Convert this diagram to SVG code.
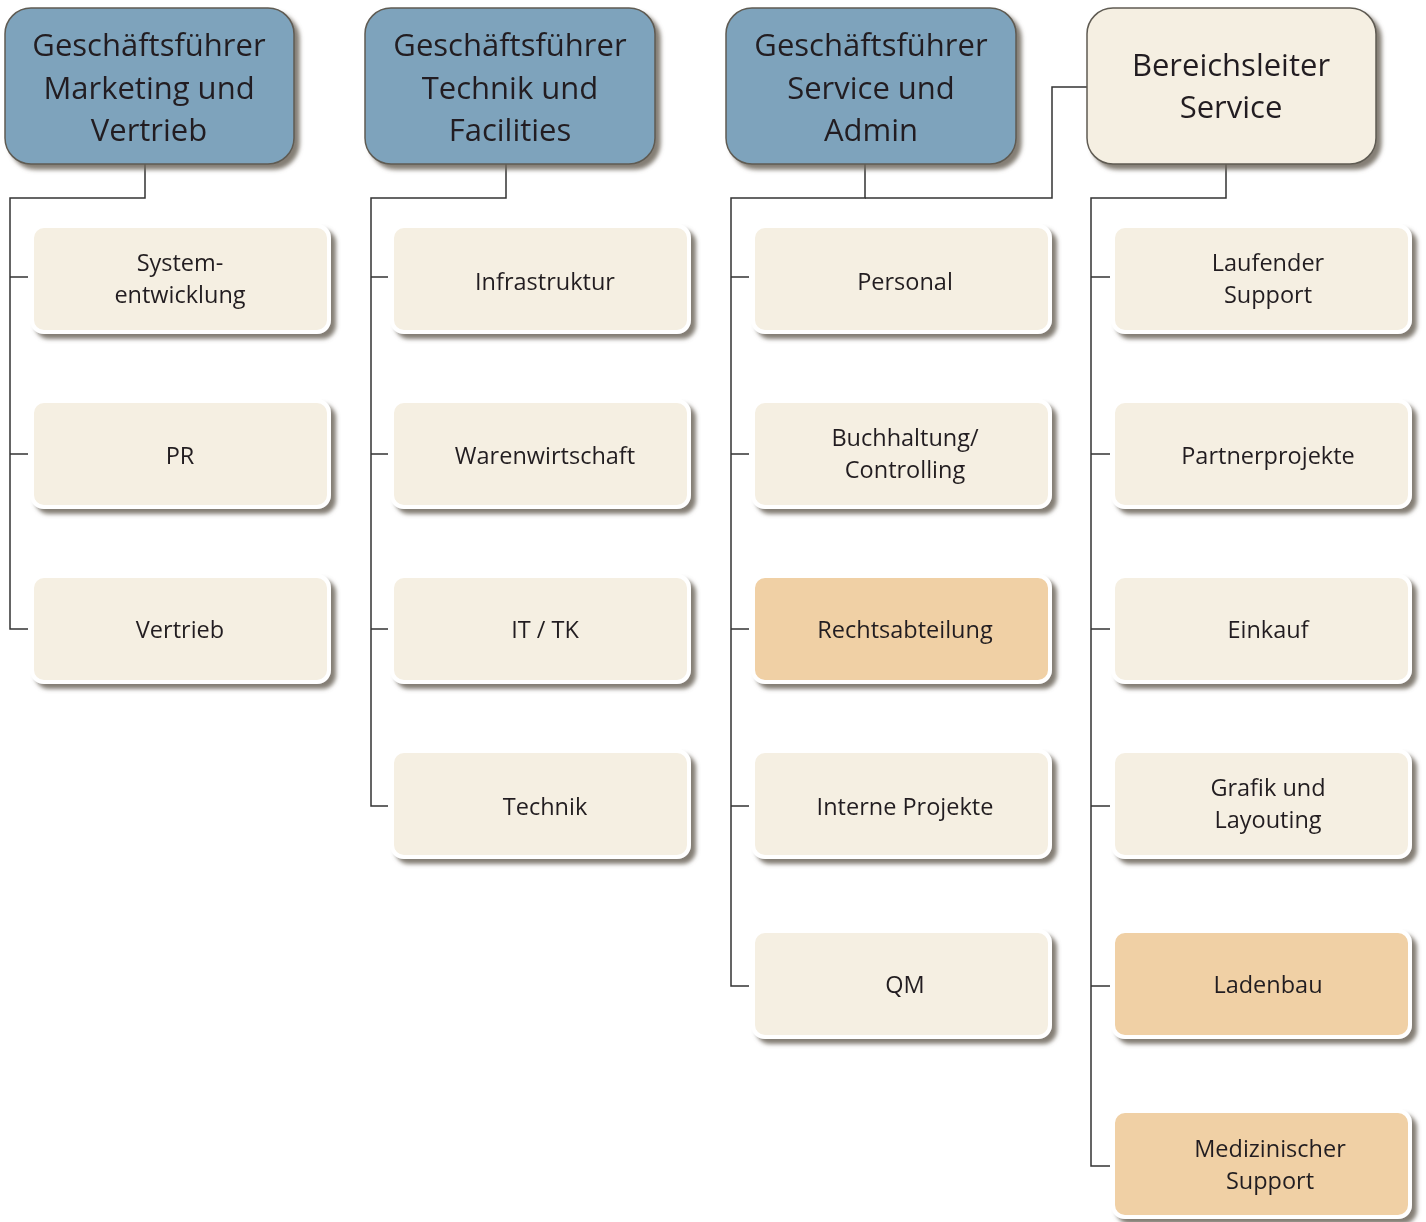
<svg xmlns="http://www.w3.org/2000/svg" width="1426" height="1222" viewBox="0 0 1426 1222">
<defs>
<filter id="sh" x="-10%" y="-10%" width="130%" height="130%">
<feGaussianBlur in="SourceAlpha" stdDeviation="2"/>
<feOffset dx="5" dy="5" result="b"/>
<feFlood flood-color="#6e675c" flood-opacity="0.85"/>
<feComposite in2="b" operator="in"/>
<feMerge><feMergeNode/><feMergeNode in="SourceGraphic"/></feMerge>
</filter>
</defs>
<style>
.head{fill:#7ea3bc;stroke:#5f5b53;stroke-width:1.5}
.lead{fill:#f5efe2;stroke:#5f5b53;stroke-width:1.5}
.unit{fill:#f5efe2;stroke:#ffffff;stroke-width:4}
.hi{fill:#f0d0a5;stroke:#ffffff;stroke-width:4}
.t1{font-family:"Open Sans","Noto Sans",sans-serif;font-size:31px;fill:#231f20;text-anchor:middle}
.t2{font-family:"Open Sans","Noto Sans",sans-serif;font-size:23.5px;fill:#231f20;text-anchor:middle}
.c{fill:none;stroke:#333333;stroke-width:1.5}
</style>
<g id="connectors">
<path class="c" d="M145 164V198H10V629H28"/>
<path class="c" d="M10 277H28M10 454H28"/>
<path class="c" d="M506 164V198H371V806H388"/>
<path class="c" d="M371 277H388M371 454H388M371 629H388"/>
<path class="c" d="M865 164V198H731V986H749"/>
<path class="c" d="M731 277H749M731 454H749M731 629H749M731 806H749"/>
<path class="c" d="M865 198H1052V87H1087"/>
<path class="c" d="M1226 164V198H1091V1166H1110"/>
<path class="c" d="M1091 277H1110M1091 454H1110M1091 629H1110M1091 806H1110M1091 986H1110"/>
</g>
<g id="gf-marketing" filter="url(#sh)"><rect class="head" x="5" y="8" width="289" height="156" rx="26"/>
<text class="t1" x="149" y="56">Geschäftsführer</text><text class="t1" x="149" y="99">Marketing und</text><text class="t1" x="149" y="141">Vertrieb</text></g>
<g id="gf-technik" filter="url(#sh)"><rect class="head" x="365" y="8" width="290" height="156" rx="26"/>
<text class="t1" x="510" y="56">Geschäftsführer</text><text class="t1" x="510" y="99">Technik und</text><text class="t1" x="510" y="141">Facilities</text></g>
<g id="gf-service" filter="url(#sh)"><rect class="head" x="726" y="8" width="290" height="156" rx="26"/>
<text class="t1" x="871" y="56">Geschäftsführer</text><text class="t1" x="871" y="99">Service und</text><text class="t1" x="871" y="141">Admin</text></g>
<g id="bl-service" filter="url(#sh)"><rect class="lead" x="1087" y="8" width="289" height="156" rx="26"/>
<text class="t1" x="1231" y="76">Bereichsleiter</text><text class="t1" x="1231" y="118">Service</text></g>

<g id="systementwicklung" filter="url(#sh)"><rect class="unit" x="32" y="226" width="297" height="106" rx="12"/><text class="t2" x="180" y="271">System-</text><text class="t2" x="180" y="303">entwicklung</text></g>
<g id="pr" filter="url(#sh)"><rect class="unit" x="32" y="401" width="297" height="106" rx="12"/><text class="t2" x="180" y="464">PR</text></g>
<g id="vertrieb" filter="url(#sh)"><rect class="unit" x="32" y="576" width="297" height="106" rx="12"/><text class="t2" x="180" y="638">Vertrieb</text></g>

<g id="infrastruktur" filter="url(#sh)"><rect class="unit" x="392" y="226" width="297" height="106" rx="12"/><text class="t2" x="545" y="290">Infrastruktur</text></g>
<g id="warenwirtschaft" filter="url(#sh)"><rect class="unit" x="392" y="401" width="297" height="106" rx="12"/><text class="t2" x="545" y="464">Warenwirtschaft</text></g>
<g id="it-tk" filter="url(#sh)"><rect class="unit" x="392" y="576" width="297" height="106" rx="12"/><text class="t2" x="545" y="638">IT / TK</text></g>
<g id="technik" filter="url(#sh)"><rect class="unit" x="392" y="751" width="297" height="106" rx="12"/><text class="t2" x="545" y="815">Technik</text></g>

<g id="personal" filter="url(#sh)"><rect class="unit" x="753" y="226" width="297" height="106" rx="12"/><text class="t2" x="905" y="290">Personal</text></g>
<g id="buchhaltung" filter="url(#sh)"><rect class="unit" x="753" y="401" width="297" height="106" rx="12"/><text class="t2" x="905" y="446">Buchhaltung/</text><text class="t2" x="905" y="478">Controlling</text></g>
<g id="rechtsabteilung" filter="url(#sh)"><rect class="hi" x="753" y="576" width="297" height="106" rx="12"/><text class="t2" x="905" y="638">Rechtsabteilung</text></g>
<g id="interne-projekte" filter="url(#sh)"><rect class="unit" x="753" y="751" width="297" height="106" rx="12"/><text class="t2" x="905" y="815">Interne Projekte</text></g>
<g id="qm" filter="url(#sh)"><rect class="unit" x="753" y="931" width="297" height="106" rx="12"/><text class="t2" x="905" y="993">QM</text></g>

<g id="laufender-support" filter="url(#sh)"><rect class="unit" x="1113" y="226" width="297" height="106" rx="12"/><text class="t2" x="1268" y="271">Laufender</text><text class="t2" x="1268" y="303">Support</text></g>
<g id="partnerprojekte" filter="url(#sh)"><rect class="unit" x="1113" y="401" width="297" height="106" rx="12"/><text class="t2" x="1268" y="464">Partnerprojekte</text></g>
<g id="einkauf" filter="url(#sh)"><rect class="unit" x="1113" y="576" width="297" height="106" rx="12"/><text class="t2" x="1268" y="638">Einkauf</text></g>
<g id="grafik" filter="url(#sh)"><rect class="unit" x="1113" y="751" width="297" height="106" rx="12"/><text class="t2" x="1268" y="796">Grafik und</text><text class="t2" x="1268" y="828">Layouting</text></g>
<g id="ladenbau" filter="url(#sh)"><rect class="hi" x="1113" y="931" width="297" height="106" rx="12"/><text class="t2" x="1268" y="993">Ladenbau</text></g>
<g id="medizinischer-support" filter="url(#sh)"><rect class="hi" x="1113" y="1111" width="297" height="106" rx="12"/><text class="t2" x="1270" y="1157">Medizinischer</text><text class="t2" x="1270" y="1189">Support</text></g>
</svg>
